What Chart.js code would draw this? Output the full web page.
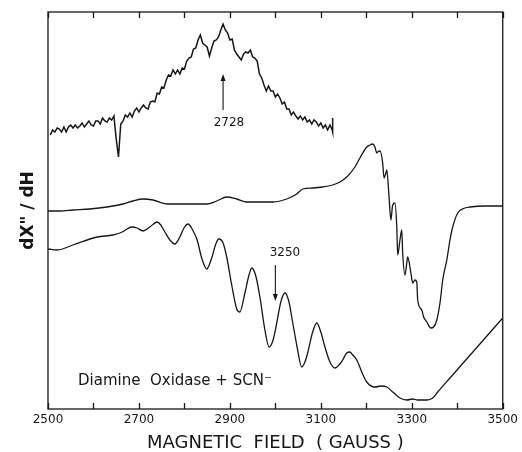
<!DOCTYPE html>
<html>
<head>
<meta charset="utf-8">
<script src="https://cdn.jsdelivr.net/npm/chart.js@4.4.1/dist/chart.umd.min.js"></script>
<style>
  body { margin: 0; background: #fff; }
  canvas { display: block; }
</style>
</head>
<body>
<canvas id="epr" width="522" height="452"></canvas>
<script>
// field axis (gauss)
const tickFields = [2500, 2600, 2700, 2800, 2900, 3000, 3100, 3200, 3300, 3400, 3500];
const tickLabels = [2500, 2700, 2900, 3100, 3300, 3500];

// upper inset: high-gain scan of the low-field region
const insetField = [
  2505, 2510, 2515, 2520, 2525, 2530, 2535, 2540, 2545, 2550, 2555, 2560, 2565, 2570, 2575,
  2580, 2585, 2590, 2595, 2600, 2605, 2610, 2615, 2620, 2625, 2630, 2635, 2640, 2645, 2650,
  2655, 2660, 2665, 2670, 2675, 2680, 2685, 2690, 2695, 2700, 2705, 2710, 2715, 2720, 2725,
  2730, 2735, 2740, 2745, 2750, 2755, 2760, 2765, 2770, 2775, 2780, 2785, 2790, 2795, 2800,
  2805, 2810, 2815, 2820, 2825, 2830, 2835, 2840, 2845, 2850, 2855, 2860, 2865, 2870, 2875,
  2880, 2885, 2890, 2895, 2900, 2905, 2910, 2915, 2920, 2925, 2930, 2935, 2940, 2945, 2950,
  2955, 2960, 2965, 2970, 2975, 2980, 2985, 2990, 2995, 3000, 3005, 3010, 3015, 3020, 3025,
  3030, 3035, 3040, 3045, 3050, 3055, 3060, 3065, 3070, 3075, 3080, 3085, 3090, 3095, 3100,
  3105, 3110, 3115, 3120, 3125, 3126, 3126
];
const insetSignal = [
  274, 279, 277, 281, 280, 277, 282, 277, 282, 284, 281, 284, 281, 283, 286,
  282, 285, 288, 284, 283, 288, 288, 285, 291, 288, 287, 291, 289, 293, 270,
  252, 285, 288, 294, 292, 296, 292, 298, 301, 297, 301, 304, 301, 300, 307,
  308, 307, 316, 315, 322, 321, 329, 334, 333, 339, 335, 339, 335, 341, 340,
  348, 351, 352, 360, 361, 369, 374, 366, 364, 362, 353, 361, 368, 369, 372,
  379, 385, 379, 376, 369, 370, 359, 355, 352, 349, 355, 357, 356, 359, 352,
  351, 348, 335, 331, 324, 318, 323, 318, 318, 312, 315, 311, 305, 307, 300,
  300, 294, 297, 293, 290, 293, 289, 292, 287, 289, 285, 289, 287, 283, 286,
  281, 284, 279, 284, 279, 277, 291
];

// middle trace: native enzyme
const nativeField = [
  2500, 2526, 2555, 2592, 2630, 2665, 2687, 2709, 2731, 2762, 2790, 2849, 2871, 2893, 2915,
  2937, 2966, 2995, 3025, 3047, 3060, 3082, 3104, 3126, 3142, 3157, 3175, 3186, 3201, 3208,
  3214, 3219, 3223, 3225, 3230, 3236, 3239, 3243, 3245, 3250, 3254, 3258, 3263, 3267, 3269,
  3274, 3278, 3280, 3285, 3289, 3291, 3298, 3302, 3307, 3311, 3313, 3322, 3326, 3333, 3342,
  3348, 3355, 3362, 3368, 3377, 3384, 3390, 3401, 3417, 3428, 3461, 3500
];
const nativeSignal = [
  198, 198, 199, 200, 202, 205, 208, 210, 209, 205, 205, 205, 208, 212, 210,
  207, 207, 207, 210, 215, 220, 221, 222, 224, 227, 232, 242, 251, 262, 264,
  265, 262, 256, 257, 258, 246, 231, 236, 239, 212, 189, 204, 206, 182, 154,
  169, 179, 156, 134, 146, 152, 136, 126, 129, 127, 109, 99, 92, 87, 81,
  82, 89, 106, 129, 149, 169, 182, 196, 201, 202, 203, 203
];

// lower trace: enzyme + thiocyanate
const scnField = [
  2500, 2520, 2555, 2608, 2643, 2663, 2674, 2685, 2696, 2709, 2724, 2740, 2748, 2757, 2768,
  2779, 2790, 2799, 2808, 2817, 2828, 2838, 2849, 2860, 2869, 2876, 2885, 2893, 2904, 2915,
  2922, 2933, 2942, 2948, 2957, 2966, 2977, 2986, 2995, 3003, 3012, 3021, 3030, 3036, 3047,
  3058, 3065, 3071, 3082, 3091, 3100, 3109, 3120, 3131, 3142, 3148, 3157, 3164, 3170, 3179,
  3190, 3201, 3219, 3232, 3245, 3258, 3274, 3289, 3302, 3313, 3333, 3346, 3357, 3384, 3500
];
const scnSignal = [
  160, 159, 164, 172, 174, 177, 180, 182, 181, 178, 182, 187, 184, 177, 169,
  165, 172, 181, 185, 180, 169, 151, 140, 151, 165, 170, 166, 152, 124, 100,
  97, 116, 134, 141, 133, 112, 79, 62, 69, 86, 107, 116, 107, 92, 64,
  42, 47, 56, 77, 86, 77, 62, 47, 41, 45, 49, 56, 57, 54, 49,
  37, 27, 22, 23, 22, 17, 11, 9, 10, 9, 9, 11, 17, 31, 91
];

const pairs = (xs, ys) => xs.map((x, i) => ({ x, y: ys[i] }));
const ink = '#161616';
const fontFamily = '"DejaVu Sans", sans-serif';

// box, inward ticks, arrows and sample label
const framePlugin = {
  id: 'frame',
  afterDatasetsDraw(chart) {
    const { ctx, chartArea: a, scales: { x, y } } = chart;
    ctx.save();
    ctx.strokeStyle = ink;
    ctx.lineWidth = 1.3;
    ctx.strokeRect(a.left, a.top, a.right - a.left, a.bottom - a.top);
    ctx.beginPath();
    tickFields.forEach(v => {
      const px = Math.round(x.getPixelForValue(v)) + 0.5;
      ctx.moveTo(px, a.bottom);
      ctx.lineTo(px, a.bottom - 6);
      ctx.moveTo(px, a.top);
      ctx.lineTo(px, a.top + 6);
    });
    ctx.stroke();

    const arrow = (field, from, to) => {
      const px = x.getPixelForValue(field);
      const y0 = y.getPixelForValue(from);
      const y1 = y.getPixelForValue(to);
      const dir = y1 > y0 ? 1 : -1;
      ctx.lineWidth = 1.1;
      ctx.beginPath();
      ctx.moveTo(px, y0);
      ctx.lineTo(px, y1 - dir * 5);
      ctx.stroke();
      ctx.beginPath();
      ctx.moveTo(px, y1);
      ctx.lineTo(px - 2.5, y1 - dir * 7);
      ctx.lineTo(px + 2.5, y1 - dir * 7);
      ctx.closePath();
      ctx.fill();
    };
    ctx.fillStyle = ink;
    arrow(2885, 299, 335);
    arrow(3000, 144, 108);

    ctx.font = '12px ' + fontFamily;
    ctx.textAlign = 'center';
    ctx.textBaseline = 'middle';
    ctx.fillText('2728', x.getPixelForValue(2898), y.getPixelForValue(286));
    ctx.fillText('3250', x.getPixelForValue(3021), y.getPixelForValue(156));

    ctx.font = '15px ' + fontFamily;
    ctx.textAlign = 'left';
    ctx.fillText('Diamine  Oxidase + SCN\u207B', x.getPixelForValue(2566), y.getPixelForValue(28));
    ctx.restore();
  }
};

new Chart(document.getElementById('epr'), {
  type: 'line',
  data: {
    datasets: [
      { data: pairs(insetField, insetSignal), borderColor: ink, borderWidth: 1.5, tension: 0 },
      { data: pairs(nativeField, nativeSignal), borderColor: ink, borderWidth: 1.3, cubicInterpolationMode: 'monotone' },
      { data: pairs(scnField, scnSignal), borderColor: ink, borderWidth: 1.3, cubicInterpolationMode: 'monotone' },
    ],
  },
  options: {
    responsive: false,
    animation: false,
    layout: { padding: { left: 0, right: 19, top: 12, bottom: 0 } },
    elements: { point: { radius: 0 } },
    plugins: {
      legend: { display: false },
      tooltip: { enabled: false },
    },
    scales: {
      x: {
        type: 'linear',
        min: 2500,
        max: 3500,
        grid: { display: false, drawTicks: false },
        border: { display: false },
        ticks: {
          stepSize: 100,
          autoSkip: false,
          maxRotation: 0,
          padding: 4,
          color: ink,
          font: { family: fontFamily, size: 12 },
          callback: v => (tickLabels.includes(v) ? String(v) : ''),
        },
        title: {
          display: true,
          text: 'MAGNETIC  FIELD  ( GAUSS )',
          color: ink,
          font: { family: fontFamily, size: 18, lineHeight: 1 },
          padding: { top: 0, bottom: 0 },
        },
        afterFit: s => { s.height = 43; },
      },
      y: {
        min: 0,
        max: 397,
        grid: { display: false },
        border: { display: false },
        ticks: { display: false },
        title: {
          display: true,
          text: 'dX" / dH',
          color: ink,
          font: { family: fontFamily, size: 17, weight: 'bold' },
          padding: { top: 18, bottom: 0 },
        },
        afterFit: s => { s.width = 48; },
      },
    },
  },
  plugins: [framePlugin],
});
</script>
</body>
</html>
